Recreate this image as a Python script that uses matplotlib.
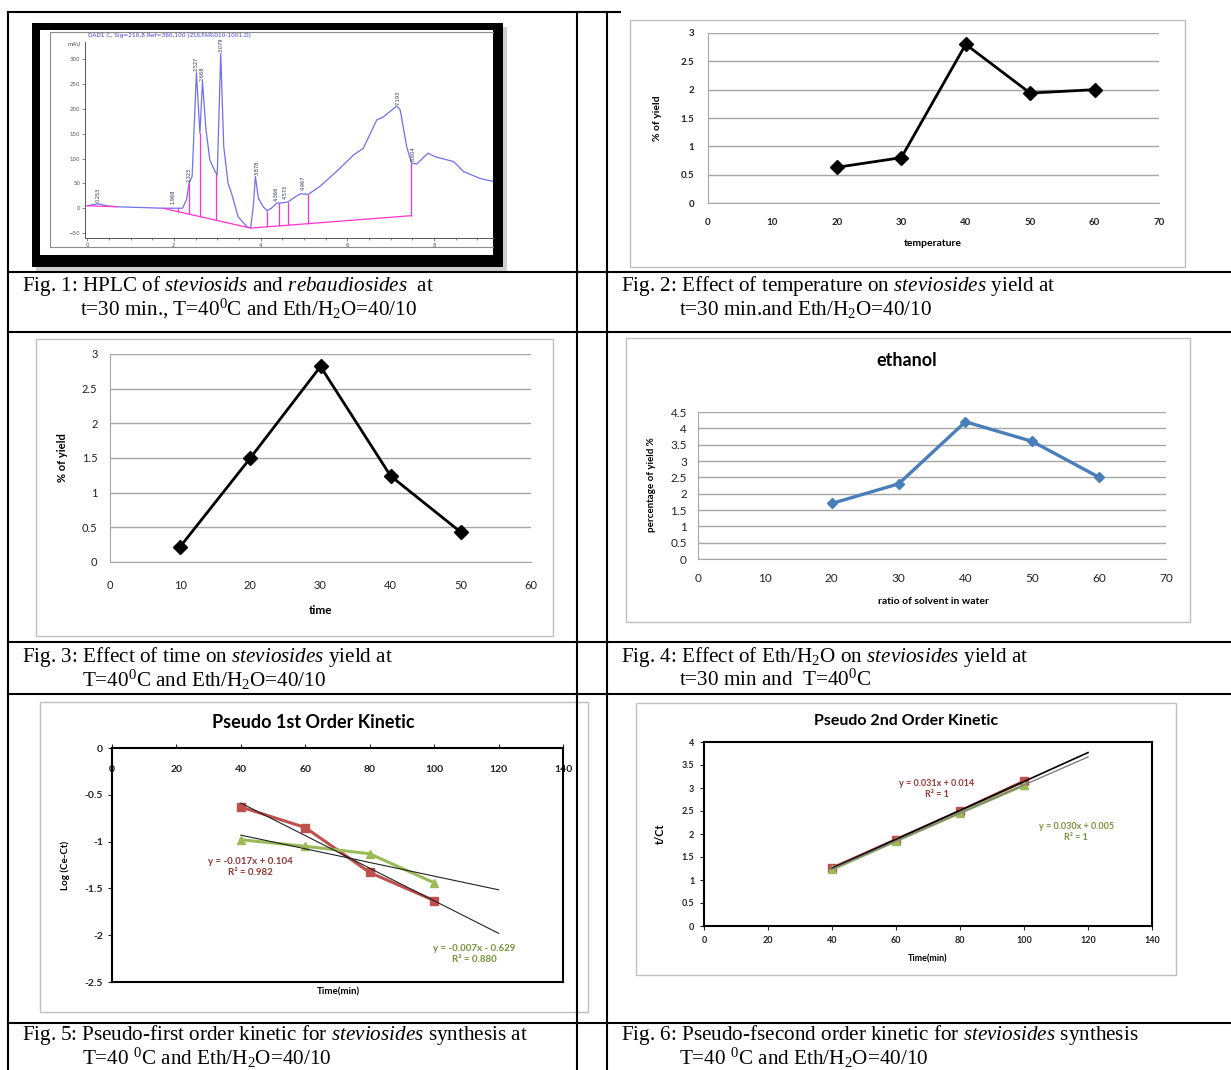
import numpy as np
import matplotlib
matplotlib.use("Agg")
import matplotlib.pyplot as plt
from matplotlib.patches import Rectangle
from matplotlib.ticker import FuncFormatter

W, H = 1231, 1070

# ---------------- data ----------------
# Fig 1: HPLC trace (time min, mAU)
hplc_t = [0.0, 0.25, 0.45, 0.68, 1.75, 2.2, 2.29, 2.35, 2.42, 2.52, 2.6, 2.66, 2.74, 2.83,
          2.95, 3.0, 3.08, 3.15, 3.25, 3.33, 3.48, 3.68, 3.77, 3.83, 3.88, 3.95, 4.06, 4.15,
          4.25, 4.37, 4.52, 4.64, 4.75, 4.91, 5.1, 5.37, 5.75, 6.14, 6.37, 6.68, 6.83, 7.14,
          7.22, 7.37, 7.48, 7.6, 7.86, 8.02, 8.45, 8.68, 9.06, 9.37]
hplc_mau = [5, 9, 5, 3, 0, 0, 17, 50, 64, 273, 151, 255, 158, 97,
            74, 67, 312, 124, 50, 30, -17, -37, -40, 3, 64, 20, 3, -5,
            0, 10, 11, 13, 20, 29, 28, 44, 74, 107, 121, 178, 184, 206,
            198, 124, 91, 89, 111, 104, 94, 74, 60, 54]
base_t = [1.75, 3.77, 7.48]          # integration baseline
base_mau = [0, -40, -15]
base0_t = [0.0, 0.68]
base0_mau = [5, 3]
drop_t = [2.10, 2.35, 2.60, 2.98, 4.15, 4.43, 4.64, 5.10, 7.48]
peak_t = [0.25, 1.97, 2.35, 2.52, 2.65, 3.08, 3.91, 4.35, 4.57, 4.98, 7.16, 7.52]
peak_y = [10, 7, 50, 275, 255, 312, 64, 13, 17, 34, 207, 94]
peak_lbl = ["0.253", "1.968", "2.323", "2.527", "2.668", "3.079", "3.878",
            "4.366", "4.573", "4.967", "7.193", "8.604"]

# Fig 2: temperature
temp_x = [20, 30, 40, 50, 60]
temp_y = [0.63, 0.80, 2.80, 1.94, 2.00]

# Fig 3: time
time_x = [10, 20, 30, 40, 50]
time_y = [0.22, 1.50, 2.82, 1.24, 0.43]

# Fig 4: ethanol ratio
eth_x = [20, 30, 40, 50, 60]
eth_y = [1.70, 2.30, 4.20, 3.60, 2.50]

# Fig 5: pseudo 1st order
k1_x = [40, 60, 80, 100]
k1_red = [-0.63, -0.85, -1.33, -1.63]
k1_green = [-0.98, -1.05, -1.13, -1.44]
k1_eq_red = "y = -0.017x + 0.104\nR² = 0.982"
k1_eq_green = "y = -0.007x - 0.629\nR² = 0.880"

# Fig 6: pseudo 2nd order
k2_x = [40, 60, 80, 100]
k2_red = [1.26, 1.88, 2.50, 3.15]
k2_green = [1.23, 1.85, 2.46, 3.06]
k2_eq_red = "y = 0.031x + 0.014\nR² = 1"
k2_eq_green = "y = 0.030x + 0.005\nR² = 1"
trend_end = 120

captions = [
    (22, 80, 286, r"Fig. 1: HPLC of $\mathit{steviosids}$ and $\mathit{rebaudiosides}$  at",
     r"t=30 min., T=40$^{0}$C and Eth/H$_{2}$O=40/10"),
    (621, 679, 286, r"Fig. 2: Effect of temperature on $\mathit{steviosides}$ yield at",
     r"t=30 min.and Eth/H$_{2}$O=40/10"),
    (22, 82, 657, r"Fig. 3: Effect of time on $\mathit{steviosides}$ yield at",
     r"T=40$^{0}$C and Eth/H$_{2}$O=40/10"),
    (621, 679, 657, r"Fig. 4: Effect of Eth/H$_{2}$O on $\mathit{steviosides}$ yield at",
     r"t=30 min and  T=40$^{0}$C"),
    (22, 82, 1035, r"Fig. 5: Pseudo-first order kinetic for $\mathit{steviosides}$ synthesis at",
     r"T=40 $^{0}$C and Eth/H$_{2}$O=40/10"),
    (621, 679, 1035, r"Fig. 6: Pseudo-fsecond order kinetic for $\mathit{steviosides}$ synthesis",
     r"T=40 $^{0}$C and Eth/H$_{2}$O=40/10"),
]

RED = "#C0504D"
GREEN = "#9BBB59"
BLUE = "#4A7EBB"
GRID = "#a6a6a6"

plt.rcParams["font.family"] = ["Lato", "DejaVu Sans"]
plt.rcParams["mathtext.fontset"] = "custom"
plt.rcParams["mathtext.rm"] = "Liberation Serif"
plt.rcParams["mathtext.it"] = "Liberation Serif:italic"
plt.rcParams["mathtext.bf"] = "Liberation Serif:bold"

fig = plt.figure(figsize=(W / 100, H / 100), dpi=100)

# background layer in pixel coordinates (table, boxes, captions)
bg = fig.add_axes([0, 0, 1, 1], zorder=0)
bg.set_xlim(0, W)
bg.set_ylim(H, 0)
bg.axis("off")


def px_axes(l, t, r, b):
    return fig.add_axes([l / W, 1 - b / H, (r - l) / W, (b - t) / H], zorder=2)


def box(l, t, r, b, ec="#bfbfbf", lw=1.0):
    bg.add_patch(Rectangle((l, t), r - l, b - t, fill=False, ec=ec, lw=lw))


def num(v, pos=None):
    return f"{v:g}"


def bold_ticks(ax):
    for t in ax.xaxis.get_major_ticks() + ax.yaxis.get_major_ticks():
        t.label1.set_fontweight("bold")
        t.label2.set_fontweight("bold")


# table grid
for yy in [272, 332, 642, 694, 1023]:
    bg.plot([8, W], [yy, yy], color="black", lw=1.5)
bg.plot([8, 620], [12, 12], color="black", lw=1.5)
for xx in [8, 577, 607]:
    bg.plot([xx, xx], [12, H], color="black", lw=1.5)

# captions
for x1, x2, yy, l1, l2 in captions:
    bg.text(x1, yy, l1, fontsize=15.2, family="Liberation Serif", va="center", ha="left")
    bg.text(x2, yy + 23, l2, fontsize=15.2, family="Liberation Serif", va="center", ha="left")

# ---------------- Fig 1 HPLC ----------------
bg.add_patch(Rectangle((36, 27), 471, 244, color="#b0b0b0", alpha=0.6, lw=0))
bg.add_patch(Rectangle((32, 23), 471, 244, color="black", lw=0))
bg.add_patch(Rectangle((40, 30), 453, 225, color="white", lw=0))
bg.plot([50, 50, 493], [247, 32, 32], color="#8a8a8a", lw=0.8)
bg.plot([50, 493], [247, 247], color="#8a8a8a", lw=0.8)
bg.text(88, 35, r"DAD1 C, Sig=210,8 Ref=360,100 (ZULFAR\010-1001.D)", fontsize=4.2,
        color="#4040e0", family="DejaVu Sans", va="center")
bg.text(68, 45, "mAU", fontsize=4, color="#444444", family="DejaVu Sans", va="center")

ax1 = px_axes(85, 42, 493, 238)
ax1.plot(hplc_t, hplc_mau, color="#7070f0", lw=0.9)
ax1.plot(base_t, base_mau, color="#ff33cc", lw=0.9)
ax1.plot(base0_t, base0_mau, color="#ff33cc", lw=0.9)
drop_top = np.interp(drop_t, hplc_t, hplc_mau)
drop_bot = np.interp(drop_t, base_t, base_mau)
ax1.vlines(drop_t, drop_bot, drop_top, color="#ff33cc", lw=0.9)
for t, y, s in zip(peak_t, peak_y, peak_lbl):
    ax1.text(t, y + 2, s, rotation=90, fontsize=3.6, color="#333355",
             family="DejaVu Sans", ha="center", va="bottom")
ax1.set_xlim(-0.05, 9.36)
ax1.set_ylim(-60, 335)
ax1.set_xticks([0, 2, 4, 6, 8])
ax1.set_xticks(np.arange(0, 9.5, 0.5), minor=True)
ax1.set_yticks(np.arange(-50, 301, 50))
ax1.tick_params(labelsize=4, colors="#555555", length=2, width=0.5, pad=1.5)
ax1.tick_params(which="minor", length=1.2, width=0.5, colors="#555555")
for lab in ax1.get_xticklabels() + ax1.get_yticklabels():
    lab.set_family("DejaVu Sans")
for s in ["top", "right"]:
    ax1.spines[s].set_visible(False)
for s in ["left", "bottom"]:
    ax1.spines[s].set_color("#555555")
    ax1.spines[s].set_linewidth(0.7)
ax1.patch.set_alpha(0)


# ---------------- Excel style line charts ----------------
def excel_line(ax, x, y, xmax, ymax, ystep, color, lw, ms, fs, bold, padx, pady):
    ax.plot(x, y, color=color, lw=lw, marker="D", ms=ms, zorder=3)
    ax.set_xlim(0, xmax)
    ax.set_ylim(0, ymax)
    ax.set_xticks(np.arange(0, xmax + 1, 10))
    ax.set_yticks(np.arange(0, ymax + 0.01, ystep))
    ax.yaxis.set_major_formatter(FuncFormatter(num))
    ax.grid(axis="y", color=GRID, lw=1)
    ax.set_axisbelow(True)
    for s in ["top", "right"]:
        ax.spines[s].set_visible(False)
    for s in ["left", "bottom"]:
        ax.spines[s].set_color(GRID)
    ax.tick_params(length=0, labelsize=fs, colors="#222222")
    ax.tick_params(axis="x", pad=padx)
    ax.tick_params(axis="y", pad=pady)
    if bold:
        bold_ticks(ax)


# Fig 2
box(630, 20, 1185, 267)
ax2 = px_axes(708, 33, 1159, 203)
excel_line(ax2, temp_x, temp_y, 70, 3, 0.5, "black", 2, 7, 7, True, 11, 10)
bg.text(657, 118, "% of yield", rotation=90, fontsize=7.5, fontweight="bold", ha="center", va="center")
bg.text(933, 244, "temperature", fontsize=7.5, fontweight="bold", ha="center", va="center")

# Fig 3
box(36, 339, 553, 636)
ax3 = px_axes(110, 354, 531, 562)
excel_line(ax3, time_x, time_y, 60, 3, 0.5, "black", 2, 7.5, 8, False, 13, 9)
bg.text(62, 458, "% of yield", rotation=90, fontsize=8, fontweight="bold", ha="center", va="center")
bg.text(321, 610, "time", fontsize=8.5, fontweight="bold", ha="center", va="center")

# Fig 4
box(626, 338, 1190, 622)
ax4 = px_axes(698, 412, 1166, 559)
excel_line(ax4, eth_x, eth_y, 70, 4.5, 0.5, BLUE, 2.4, 5, 8.5, False, 10, 8)
bg.text(907, 360, "ethanol", fontsize=13, fontweight="bold", ha="center", va="center")
bg.text(652, 485, "percentage of yield %", rotation=90, fontsize=7, fontweight="bold",
        ha="center", va="center")
bg.text(933, 601, "ratio of solvent in water", fontsize=7.5, fontweight="bold",
        ha="center", va="center")


# ---------------- kinetic charts ----------------
def kinetic(ax, x, yr, yg, ymin, ymax, fs):
    xr = np.array([x[0], trend_end])
    pr = np.polyfit(x, yr, 1)
    pg = np.polyfit(x, yg, 1)
    ax.plot(x, yr, color=RED, lw=2.2, marker="s", ms=6, zorder=3)
    ax.plot(x, yg, color=GREEN, lw=2.2, marker="^", ms=6, zorder=3)
    ax.set_xlim(0, 140)
    ax.set_ylim(ymin, ymax)
    ax.set_xticks(np.arange(0, 141, 20))
    ax.set_yticks(np.arange(ymin, ymax + 0.01, 0.5))
    ax.yaxis.set_major_formatter(FuncFormatter(num))
    for s in ax.spines.values():
        s.set_linewidth(1.5)
        s.set_color("black")
    ax.tick_params(labelsize=fs, colors="#222222", length=3, width=0.8)
    return xr, pr, pg


# Fig 5
box(40, 702, 588, 1012)
ax5 = px_axes(112, 748, 563, 982)
xr, pr, pg = kinetic(ax5, k1_x, k1_red, k1_green, -2.5, 0, 7.5)
ax5.plot(xr, np.polyval(pr, xr), color="#222222", lw=0.8, zorder=4)
ax5.plot(xr, np.polyval(pg, xr), color="#222222", lw=0.8, zorder=4)
ax5.tick_params(axis="x", top=True, bottom=False, labeltop=True, labelbottom=False,
                direction="out", pad=-22)
bold_ticks(ax5)
ax5.text(43, -1.27, k1_eq_red, fontsize=7, fontweight="bold", color="#953735",
         ha="center", va="center", linespacing=1.3)
ax5.text(112.5, -2.2, k1_eq_green, fontsize=7, fontweight="bold", color="#77933C",
         ha="center", va="center", linespacing=1.3)
bg.text(313, 723, "Pseudo 1st Order Kinetic", fontsize=13, fontweight="bold", ha="center", va="center")
bg.text(65, 865, "Log (Ce-Ct)", rotation=90, fontsize=7, fontweight="bold", ha="center", va="center")
bg.text(338, 992, "Time(min)", fontsize=7, fontweight="bold", ha="center", va="center")

# Fig 6
box(636, 703, 1176, 975)
ax6 = px_axes(704, 742, 1152, 926)
xr, pr, pg = kinetic(ax6, k2_x, k2_red, k2_green, 0, 4, 6.5)
ax6.plot(xr, np.polyval(pr, xr), color="black", lw=1.2, zorder=4)
ax6.plot(xr, np.polyval(pg, xr), color="#808080", lw=1.0, zorder=4)
ax6.tick_params(axis="x", pad=4)
ax6.tick_params(axis="y", pad=4)
bold_ticks(ax6)
ax6.text(72.8, 2.98, k2_eq_red, fontsize=6.5, fontweight="bold", color="#953735",
         ha="center", va="center", linespacing=1.3)
ax6.text(116.3, 2.04, k2_eq_green, fontsize=6.5, fontweight="bold", color="#77933C",
         ha="center", va="center", linespacing=1.3)
bg.text(906, 721, "Pseudo 2nd Order Kinetic", fontsize=11.5, fontweight="bold", ha="center", va="center")
bg.text(660, 834, "t/Ct", rotation=90, fontsize=8, fontweight="bold", ha="center", va="center")
bg.text(928, 959, "Time(min)", fontsize=6.5, fontweight="bold", ha="center", va="center")

fig.savefig("out.png", dpi=100)
